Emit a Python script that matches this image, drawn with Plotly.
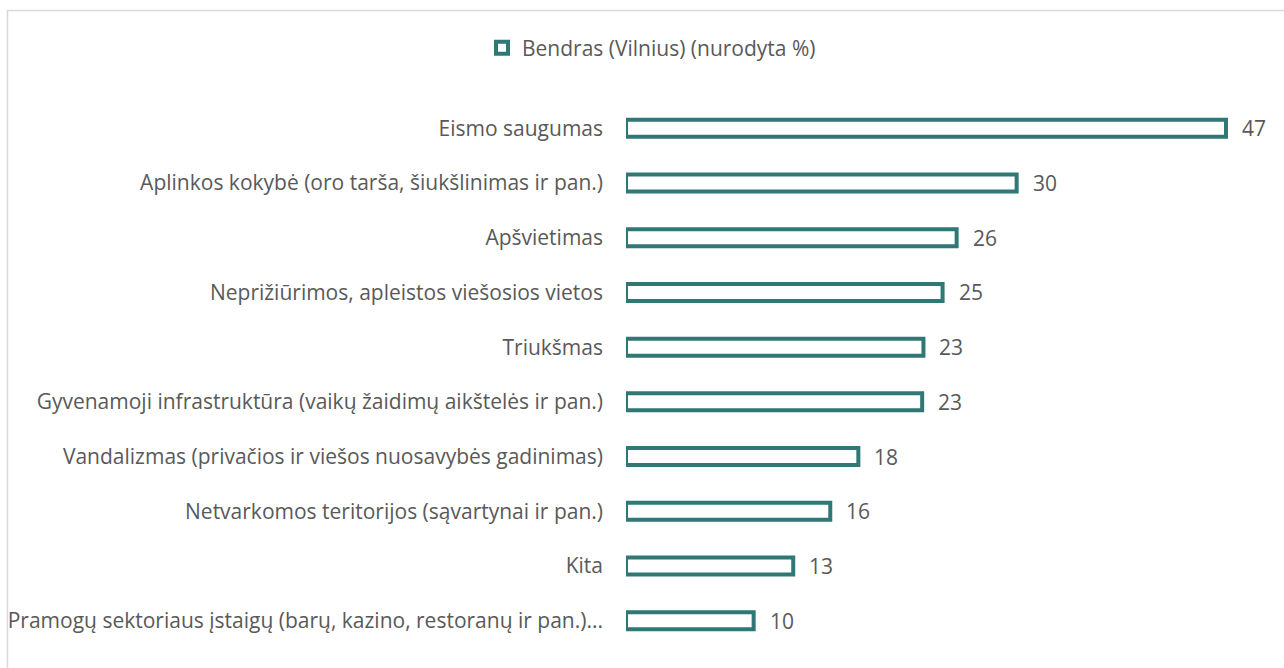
import plotly.graph_objects as go

categories = [
    "Eismo saugumas",
    "Aplinkos kokybė (oro tarša, šiukšlinimas ir pan.)",
    "Apšvietimas",
    "Neprižiūrimos, apleistos viešosios vietos",
    "Triukšmas",
    "Gyvenamoji infrastruktūra (vaikų žaidimų aikštelės ir pan.)",
    "Vandalizmas (privačios ir viešos nuosavybės gadinimas)",
    "Netvarkomos teritorijos (sąvartynai ir pan.)",
    "Kita",
    "Pramogų sektoriaus įstaigų (barų, kazino, restoranų ir pan.)...",
]
values = [47, 30.6, 25.9, 24.8, 23.3, 23.2, 18.2, 16.0, 13.1, 10.0]
value_labels = ["47", "30", "26", "25", "23", "23", "18", "16", "13", "10"]
series_name = "Bendras (Vilnius) (nurodyta %)"

TEAL = "#2F7875"
GRAY = "#595959"
FONT = "Open Sans"
FS = 21

W, H = 1284, 668
L, R, T, B = 626, 24, 101, 20
plot_w = W - L - R
plot_h = H - T - B

fig = go.Figure()
fig.add_trace(go.Bar(
    y=categories,
    x=values,
    orientation="h",
    name=series_name,
    marker=dict(color="white", line=dict(color=TEAL, width=4)),
    width=0.31,
    showlegend=True,
    hoverinfo="x+y",
))

for c, v, lab in zip(categories, values, value_labels):
    fig.add_annotation(
        x=v, y=c, text=lab, showarrow=False, xanchor="left", yanchor="middle",
        xshift=14, font=dict(family=FONT, size=FS, color=GRAY),
    )

def px_to_paper_x(px):
    return (px - L) / plot_w

def px_to_paper_y(py):
    return (H - B - py) / plot_h

fig.add_shape(
    type="rect", xref="paper", yref="paper",
    x0=px_to_paper_x(7.5), x1=px_to_paper_x(1300),
    y0=px_to_paper_y(690), y1=px_to_paper_y(10.5),
    line=dict(color="#D9D9D9", width=1.5), fillcolor="rgba(0,0,0,0)", layer="below",
)

fig.update_layout(
    width=W, height=H,
    margin=dict(l=L, r=R, t=T, b=B, autoexpand=False),
    paper_bgcolor="white", plot_bgcolor="white",
    font=dict(family=FONT, size=FS, color=GRAY),
    showlegend=True,
    legend=dict(
        orientation="h", xref="container", yref="container",
        x=482 / W, xanchor="left", y=1 - 48 / H, yanchor="middle",
        font=dict(family=FONT, size=FS, color=GRAY),
        itemwidth=30,
    ),
    xaxis=dict(range=[0, plot_w / (600 / 47)], visible=False, showgrid=False,
               zeroline=False, automargin=False),
    yaxis=dict(
        autorange="reversed", showgrid=False, zeroline=False, showline=False,
        ticks="", ticklabelstandoff=22, automargin=False,
        tickfont=dict(family=FONT, size=FS, color=GRAY),
    ),
)

fig.write_html("out.html", config={"displayModeBar": False},
               post_script="document.body.style.margin='0';")
